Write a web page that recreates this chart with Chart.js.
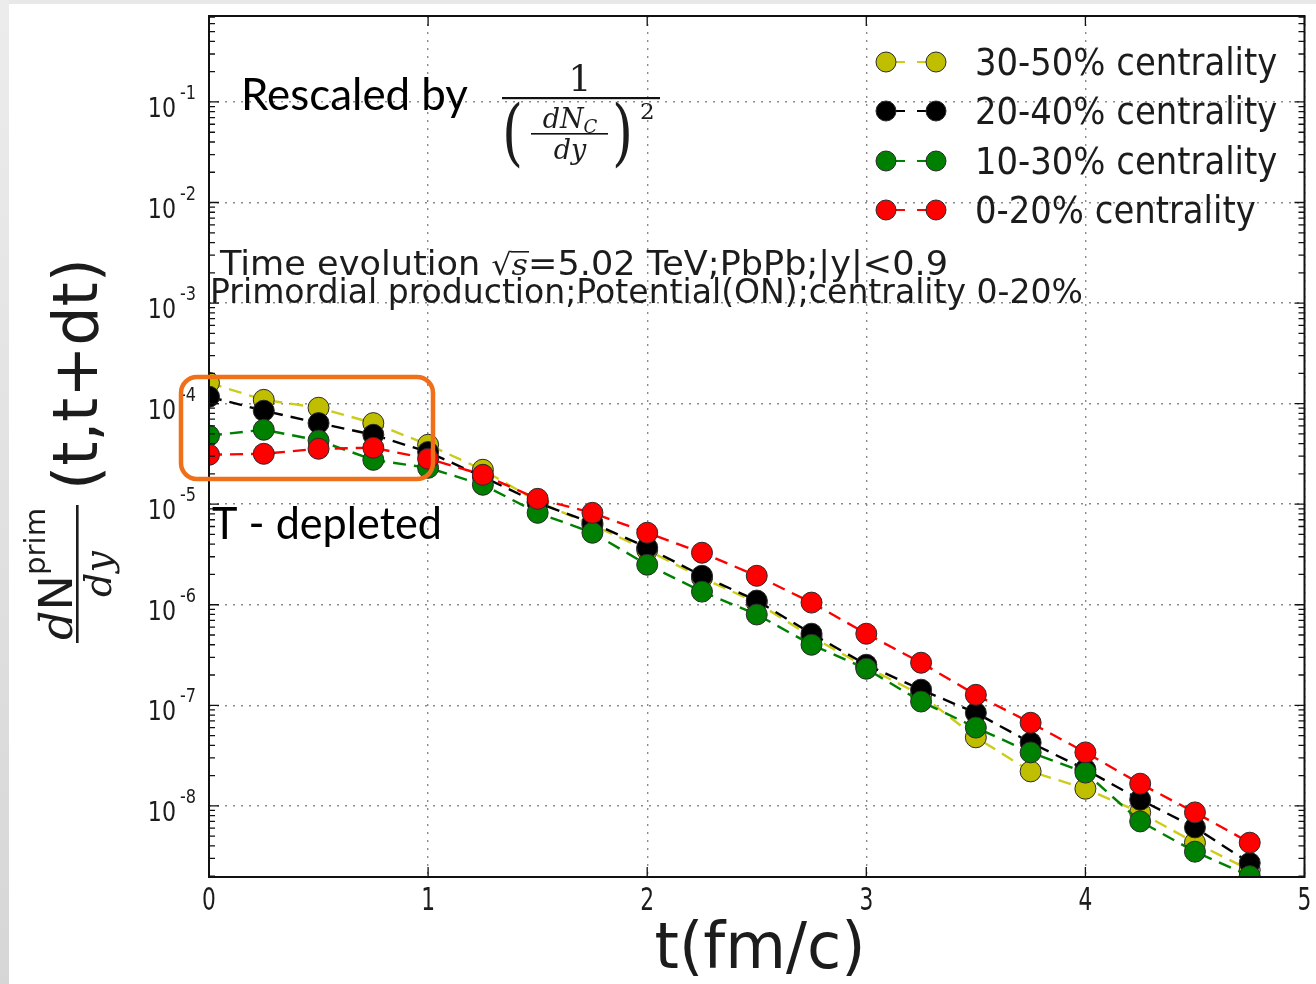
<!DOCTYPE html>
<html>
<head>
<meta charset="utf-8">
<script src="https://cdn.jsdelivr.net/npm/chart.js@4.4.1/dist/chart.umd.min.js"></script>
<style>
  html, body { margin: 0; padding: 0; background: #e6e6e6; }
  canvas { display: block; }
</style>
</head>
<body>
<canvas id="evo" width="1316" height="984"></canvas>
<script>
// time bins (fm/c) and rescaled primordial yields per centrality class
var times = [0, 0.25, 0.5, 0.75, 1, 1.25, 1.5, 1.75, 2, 2.25, 2.5, 2.75, 3, 3.25, 3.5, 3.75, 4, 4.25, 4.5, 4.75];
var cent3050 = [1.61e-4, 1.09e-4, 9.1e-5, 6.4e-5, 3.9e-5, 2.2e-5, 1.06e-5, 6.2e-6, 3.5e-6, 1.85e-6, 1.05e-6, 4.8e-7, 2.4e-7, 1.27e-7, 4.8e-8, 2.2e-8, 1.48e-8, 8.6e-9, 4.3e-9, 2.3e-9];
var cent2040 = [1.17e-4, 8.5e-5, 6.4e-5, 4.9e-5, 3.3e-5, 1.87e-5, 1.03e-5, 6.5e-6, 3.7e-6, 1.94e-6, 1.10e-6, 5.15e-7, 2.53e-7, 1.43e-7, 8.4e-8, 4.25e-8, 2.3e-8, 1.15e-8, 6.1e-9, 2.7e-9];
var cent1030 = [4.8e-5, 5.5e-5, 4.3e-5, 2.76e-5, 2.3e-5, 1.56e-5, 8.2e-6, 5.2e-6, 2.5e-6, 1.35e-6, 8.0e-7, 4.0e-7, 2.31e-7, 1.09e-7, 6.0e-8, 3.4e-8, 2.14e-8, 7.0e-9, 3.5e-9, 2.0e-9];
var cent0020 = [3.1e-5, 3.17e-5, 3.56e-5, 3.64e-5, 2.83e-5, 1.96e-5, 1.13e-5, 8.2e-6, 5.2e-6, 3.29e-6, 1.94e-6, 1.05e-6, 5.15e-7, 2.65e-7, 1.27e-7, 6.7e-8, 3.4e-8, 1.66e-8, 8.6e-9, 4.3e-9];
var seriesNames = ["30-50% centrality", "20-40% centrality", "10-30% centrality", "0-20% centrality"];
var seriesColors = ["#bfbf00", "#000000", "#008000", "#ff0000"];
var xTicks = [0, 1, 2, 3, 4, 5];
var yDecades = [-1, -2, -3, -4, -5, -6, -7, -8];

var SANS = "'DejaVu Sans', sans-serif";
var SERIF = "'DejaVu Serif', serif";
var NOTE = "Lato, 'Open Sans', sans-serif";
var INK = "#1c1c1c";

function pairs(vals) {
  return times.map(function (t, i) { return { x: t, y: vals[i] }; });
}

function makeSet(idx, vals) {
  var c = seriesColors[idx];
  return {
    label: seriesNames[idx],
    data: pairs(vals),
    borderColor: idx === 0 ? "#cccc1a" : c,
    borderWidth: 2.4,
    borderDash: [13, 8],
    pointRadius: 10.5,
    pointBorderWidth: 1,
    pointBorderColor: "#2a2a2a",
    pointBackgroundColor: c,
    tension: 0,
    clip: 0
  };
}

// runs of text drawn one after the other, optionally squeezed to a width
function runsWidth(ctx, runs) {
  var w = 0;
  runs.forEach(function (r) { ctx.font = r.f; w += ctx.measureText(r.t).width; });
  return w;
}
function drawRuns(ctx, runs, x, y, opts) {
  opts = opts || {};
  var nat = runsWidth(ctx, runs);
  var k = opts.width ? opts.width / nat : (opts.k || 1);
  var w = nat * k;
  var x0 = x;
  if (opts.align === "center") x0 = x - w / 2;
  if (opts.align === "right") x0 = x - w;
  ctx.save();
  ctx.translate(x0, y);
  ctx.scale(k, 1);
  ctx.fillStyle = opts.color || INK;
  ctx.textAlign = "left";
  ctx.textBaseline = "alphabetic";
  var cx = 0;
  runs.forEach(function (r) {
    ctx.font = r.f;
    ctx.fillText(r.t, cx, r.dy || 0);
    var rw = ctx.measureText(r.t).width;
    if (r.over) ctx.fillRect(cx - 1, r.over, rw + 2, 1.6);
    cx += rw;
  });
  ctx.restore();
}

var backdrop = {
  id: "backdrop",
  beforeDraw: function (chart) {
    var ctx = chart.ctx;
    ctx.save();
    ctx.fillStyle = "#e8e8e8";
    ctx.fillRect(0, 0, chart.width, chart.height);
    var g = ctx.createLinearGradient(0, 0, 0, chart.height);
    g.addColorStop(0, "#ececec");
    g.addColorStop(1, "#d6d6d6");
    ctx.fillStyle = g;
    ctx.fillRect(0, 0, 9, chart.height);
    ctx.fillStyle = "#ffffff";
    ctx.fillRect(9, 4, chart.width - 9, chart.height - 4);
    ctx.restore();
  }
};

var decorations = {
  id: "decorations",
  afterDraw: function (chart) {
    var ctx = chart.ctx;
    var a = chart.chartArea;
    var xs = chart.scales.x, ys = chart.scales.y;
    ctx.save();

    // tick marks pointing into the frame
    ctx.strokeStyle = "#111";
    ctx.lineWidth = 1.3;
    ctx.beginPath();
    xTicks.forEach(function (t) {
      var px = xs.getPixelForValue(t);
      ctx.moveTo(px, a.bottom); ctx.lineTo(px, a.bottom - 10);
      ctx.moveTo(px, a.top); ctx.lineTo(px, a.top + 10);
    });
    for (var e = -9; e <= 0; e++) {
      for (var m = 1; m <= 9; m++) {
        var v = m * Math.pow(10, e);
        if (v < ys.min || v > ys.max) continue;
        var py = ys.getPixelForValue(v);
        var len = m === 1 ? 10 : 6;
        ctx.moveTo(a.left, py); ctx.lineTo(a.left + len, py);
        ctx.moveTo(a.right, py); ctx.lineTo(a.right - len, py);
      }
    }
    ctx.stroke();

    // frame
    ctx.lineWidth = 2;
    ctx.strokeRect(a.left, a.top, a.right - a.left, a.bottom - a.top);

    // x tick labels
    xTicks.forEach(function (t) {
      drawRuns(ctx, [{ t: String(t), f: "32px " + SANS }], xs.getPixelForValue(t), 910, { align: "center", k: 0.68 });
    });
    // y tick labels 10^n
    yDecades.forEach(function (d) {
      var py = ys.getPixelForValue(Math.pow(10, d));
      drawRuns(ctx, [{ t: "10", f: "27px " + SANS }], 176, py + 15, { align: "right", k: 0.82 });
      drawRuns(ctx, [{ t: "-" + (-d), f: "19px " + SANS }], 180, py - 3, { k: 0.85 });
    });

    // axis titles
    drawRuns(ctx, [{ t: "t(fm/c)", f: "64px " + SANS }], 760, 968, { align: "center", width: 211 });

    ctx.save();
    ctx.rotate(-Math.PI / 2);
    // in the rotated frame: screen x = v, screen y = -u
    drawRuns(ctx, [{ t: "(t,t+dt)", f: "62px " + SANS }], -490, 97, { width: 232 });
    drawRuns(ctx, [
      { t: "d", f: "italic 44px " + SERIF },
      { t: "N", f: "46px " + SANS },
      { t: "prim", f: "28px " + SANS, dy: -27 }
    ], -574, 72, { align: "center", width: 132 });
    ctx.fillStyle = INK;
    ctx.fillRect(-643, 76, 138, 2.6);
    drawRuns(ctx, [{ t: "dy", f: "italic 38px " + SERIF }], -574, 111, { align: "center" });
    ctx.restore();

    // notes on the plot
    drawRuns(ctx, [{ t: "Rescaled by", f: "44px " + NOTE }], 241, 110, { width: 227, color: "#000" });
    drawRuns(ctx, [{ t: "1", f: "36px " + SERIF }], 580, 91, { align: "center" });
    ctx.fillStyle = "#111";
    ctx.fillRect(502, 97, 158, 2.2);
    drawRuns(ctx, [{ t: "(", f: "72px " + SERIF }], 502, 157, { k: 0.75 });
    drawRuns(ctx, [{ t: ")", f: "72px " + SERIF }], 612, 157, { k: 0.75 });
    drawRuns(ctx, [
      { t: "dN", f: "italic 27px " + SERIF },
      { t: "C", f: "italic 18px " + SERIF, dy: 5 }
    ], 570, 128, { align: "center" });
    ctx.fillStyle = "#111";
    ctx.fillRect(531, 133, 77, 1.6);
    drawRuns(ctx, [{ t: "dy", f: "italic 27px " + SERIF }], 570, 159, { align: "center" });
    drawRuns(ctx, [{ t: "2", f: "23px " + SERIF }], 640, 119);

    drawRuns(ctx, [
      { t: "Time evolution ", f: "33px " + SANS },
      { t: "\u221A", f: "30px " + SERIF },
      { t: "s", f: "italic 30px " + SERIF, over: -24 },
      { t: "=5.02 TeV;PbPb;|y|<0.9", f: "33px " + SANS }
    ], 220, 275, { width: 728 });
    drawRuns(ctx, [{ t: "Primordial production;Potential(ON);centrality 0-20%", f: "33px " + SANS }], 210, 303, { width: 873 });

    drawRuns(ctx, [{ t: "T - depleted", f: "44px " + NOTE }], 212, 539, { width: 230, color: "#000" });

    // legend
    var legY = [62, 111, 161, 210];
    seriesNames.forEach(function (name, i) {
      var y = legY[i];
      ctx.strokeStyle = i === 0 ? "#cccc1a" : seriesColors[i];
      ctx.lineWidth = 2.2;
      ctx.beginPath();
      ctx.moveTo(895, y); ctx.lineTo(905, y);
      ctx.moveTo(917, y); ctx.lineTo(927, y);
      ctx.stroke();
      [886, 936].forEach(function (cx) {
        ctx.beginPath();
        ctx.arc(cx, y, 10, 0, Math.PI * 2);
        ctx.fillStyle = seriesColors[i];
        ctx.fill();
        ctx.lineWidth = 1;
        ctx.strokeStyle = "#2a2a2a";
        ctx.stroke();
      });
      drawRuns(ctx, [{ t: name, f: "37px " + SANS }], 975, y + 13, { k: 0.915 });
    });

    // highlighted early-time window
    ctx.strokeStyle = "#f0701a";
    ctx.lineWidth = 4.5;
    ctx.beginPath();
    ctx.roundRect(181, 377, 252, 102, 16);
    ctx.stroke();

    ctx.restore();
  }
};

var ctx = document.getElementById("evo").getContext("2d");
// later datasets are drawn underneath, so 0-20% ends up on top
var evoChart = new Chart(ctx, {
  type: "line",
  data: {
    datasets: [
      makeSet(3, cent0020),
      makeSet(2, cent1030),
      makeSet(1, cent2040),
      makeSet(0, cent3050)
    ]
  },
  options: {
    responsive: false,
    animation: false,
    events: [],
    layout: { padding: { left: 209, right: 8, top: 16, bottom: 107 } },
    plugins: { legend: { display: false }, tooltip: { enabled: false } },
    scales: {
      x: {
        type: "linear",
        min: 0,
        max: 5,
        ticks: { display: false, stepSize: 1 },
        grid: { color: "#8a8a8a", lineWidth: 1.4, drawTicks: false },
        border: { display: false, dash: [2, 6] },
        afterFit: function (s) { s.height = 0; }
      },
      y: {
        type: "logarithmic",
        min: 1.96e-9,
        max: 0.716,
        ticks: { display: false },
        afterBuildTicks: function (s) {
          s.ticks = yDecades.map(function (d) { return { value: Math.pow(10, d) }; });
        },
        grid: { color: "#8a8a8a", lineWidth: 1.4, drawTicks: false },
        border: { display: false, dash: [2, 6] },
        afterFit: function (s) { s.width = 0; }
      }
    }
  },
  plugins: [backdrop, decorations]
});
</script>
</body>
</html>
